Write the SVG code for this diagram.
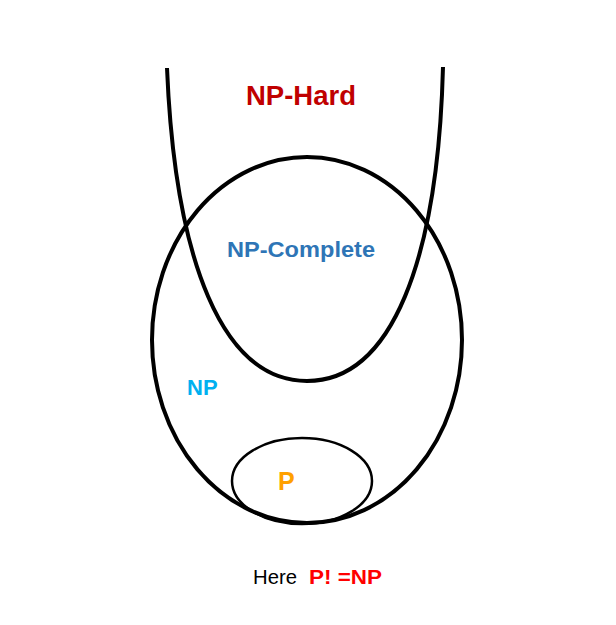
<svg xmlns="http://www.w3.org/2000/svg" width="616" height="625" viewBox="0 0 616 625">
<style>
.shape{fill:none;stroke:#000;}
.lbl{font-family:"Liberation Sans",Arial,sans-serif;font-weight:bold;}
</style>
<rect width="616" height="625" fill="#fff"/>
<g id="np">
<ellipse class="shape" cx="307" cy="340" rx="155" ry="183" stroke-width="4"/>
<text class="lbl" x="187" y="395" font-size="22" fill="#00B0F0">NP</text>
</g>
<g id="p">
<ellipse class="shape" cx="302" cy="481" rx="70" ry="43" stroke-width="2.5"/>
<text class="lbl" x="278" y="490" font-size="25" fill="#FFA000">P</text>
</g>
<g id="nphard">
<path class="shape" stroke-width="4" d="M167,68 C175,260 222,381 307,381 C392,381 438,260 443,67"/>
<text class="lbl" x="246" y="105" font-size="27" fill="#C00000" textLength="110" lengthAdjust="spacingAndGlyphs">NP-Hard</text>
</g>
<g id="npcomplete">
<text class="lbl" x="227" y="257" font-size="22" fill="#2E75B6" textLength="148" lengthAdjust="spacingAndGlyphs">NP-Complete</text>
</g>
<g id="connectors"></g>
<g id="caption">
<text x="253" y="584" font-family="'Liberation Sans',Arial,sans-serif" font-size="20" fill="#000" textLength="44" lengthAdjust="spacingAndGlyphs">Here</text>
<text class="lbl" x="309" y="584" font-size="21" fill="#FF0000" textLength="73" lengthAdjust="spacingAndGlyphs">P! =NP</text>
</g>
</svg>
